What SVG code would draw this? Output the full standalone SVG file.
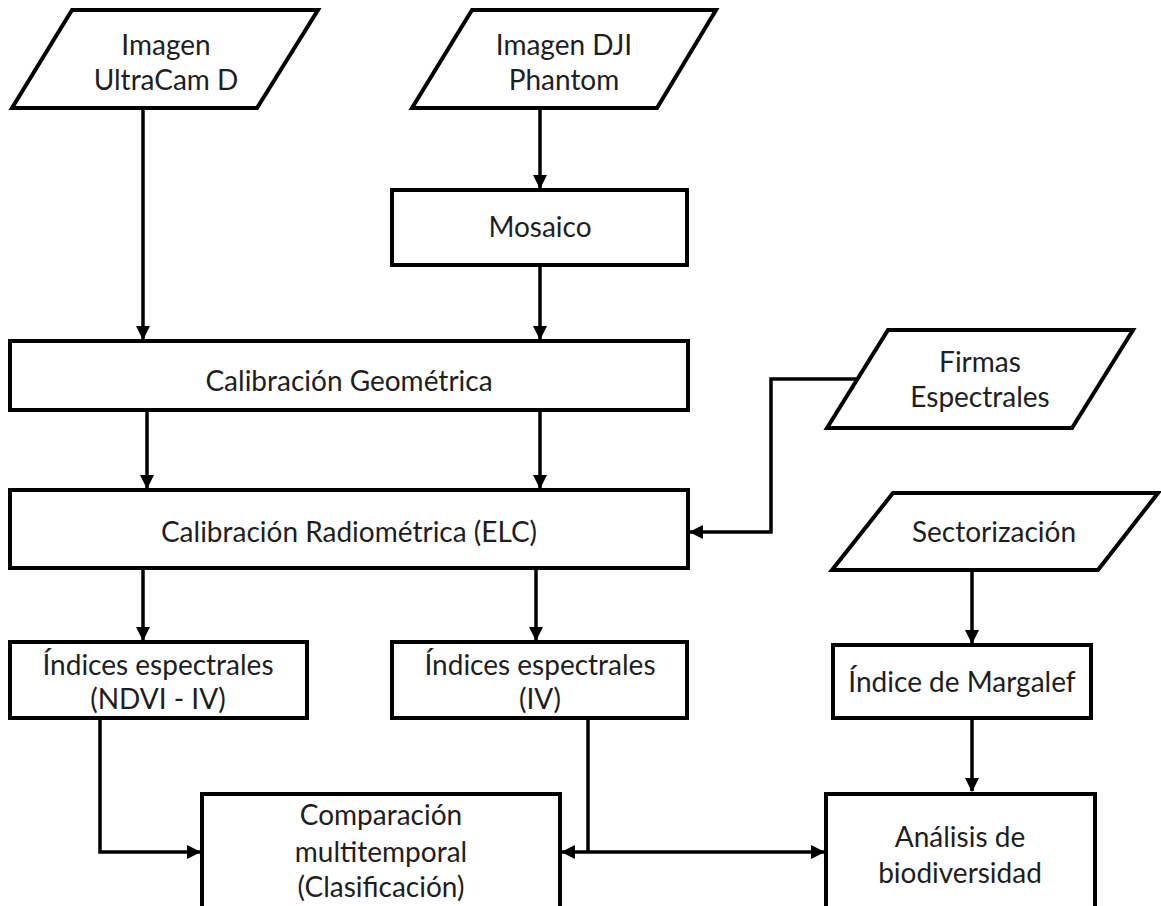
<svg xmlns="http://www.w3.org/2000/svg" width="1161" height="906" viewBox="0 0 1161 906">
<style>
.n{fill:#fff;stroke:#000;stroke-width:4}
.t{font-family:Lato,"Open Sans",sans-serif;font-size:28px;fill:#1e1e1e;text-anchor:middle}
.c{fill:none;stroke:#000;stroke-width:3.5}
</style>
<defs>
<marker id="ah" markerWidth="16" markerHeight="16" refX="13" refY="7" orient="auto" markerUnits="userSpaceOnUse" viewBox="0 0 16 14">
<path d="M0,0 L14,7 L0,14 Z" fill="#000"/>
</marker>
</defs>
<rect width="1161" height="906" fill="#fff"/>
<g id="connectors">
<path class="c" d="M143,108 V339" marker-end="url(#ah)"/>
<path class="c" d="M540,108 V188" marker-end="url(#ah)"/>
<path class="c" d="M540,265 V339" marker-end="url(#ah)"/>
<path class="c" d="M147,410 V488" marker-end="url(#ah)"/>
<path class="c" d="M540,410 V488" marker-end="url(#ah)"/>
<path class="c" d="M858,379 H771 V532 H690" marker-end="url(#ah)"/>
<path class="c" d="M143,568 V640" marker-end="url(#ah)"/>
<path class="c" d="M536,568 V640" marker-end="url(#ah)"/>
<path class="c" d="M972,570 V643" marker-end="url(#ah)"/>
<path class="c" d="M972,718 V791" marker-end="url(#ah)"/>
<path class="c" d="M100,718 V852 H200" marker-end="url(#ah)"/>
<path class="c" d="M588,718 V852"/>
<path class="c" d="M588,852 H562" marker-end="url(#ah)"/>
<path class="c" d="M588,852 H824" marker-end="url(#ah)"/>
</g>
<g id="imagen-ultracam">
<polygon class="n" points="72,10 318,10 257,108 12,108"/>
<text class="t" x="166" y="55">Imagen</text>
<text class="t" x="166" y="90">UltraCam D</text>
</g>
<g id="imagen-dji">
<polygon class="n" points="472,10 716,10 657,108 412,108"/>
<text class="t" x="564" y="55">Imagen DJI</text>
<text class="t" x="564" y="90">Phantom</text>
</g>
<g id="mosaico">
<rect class="n" x="392" y="190" width="295" height="75"/>
<text class="t" x="540" y="237">Mosaico</text>
</g>
<g id="calibracion-geometrica">
<rect class="n" x="10" y="341" width="678" height="69"/>
<text class="t" x="349" y="391">Calibración Geométrica</text>
</g>
<g id="firmas-espectrales">
<polygon class="n" points="888,330 1133,330 1072,428 827,428"/>
<text class="t" x="980" y="372">Firmas</text>
<text class="t" x="980" y="407">Espectrales</text>
</g>
<g id="calibracion-radiometrica">
<rect class="n" x="10" y="490" width="678" height="78"/>
<text class="t" x="349" y="542">Calibración Radiométrica (ELC)</text>
</g>
<g id="sectorizacion">
<polygon class="n" points="893,493 1158,493 1098,570 832,570"/>
<text class="t" x="994" y="542">Sectorización</text>
</g>
<g id="indices-ndvi">
<rect class="n" x="10" y="642" width="297" height="76"/>
<text class="t" x="158" y="675">Índices espectrales</text>
<text class="t" x="158" y="709">(NDVI - IV)</text>
</g>
<g id="indices-iv">
<rect class="n" x="392" y="642" width="295" height="76"/>
<text class="t" x="540" y="675">Índices espectrales</text>
<text class="t" x="540" y="709">(IV)</text>
</g>
<g id="indice-margalef">
<rect class="n" x="833" y="645" width="258" height="73"/>
<text class="t" x="962" y="692">Índice de Margalef</text>
</g>
<g id="comparacion">
<rect class="n" x="202" y="794" width="358" height="116"/>
<text class="t" x="381" y="825">Comparación</text>
<text class="t" x="381" y="862">multitemporal</text>
<text class="t" x="381" y="897">(Clasificación)</text>
</g>
<g id="analisis">
<rect class="n" x="826" y="794" width="269" height="116"/>
<text class="t" x="960" y="847">Análisis de</text>
<text class="t" x="960" y="883">biodiversidad</text>
</g>
</svg>
